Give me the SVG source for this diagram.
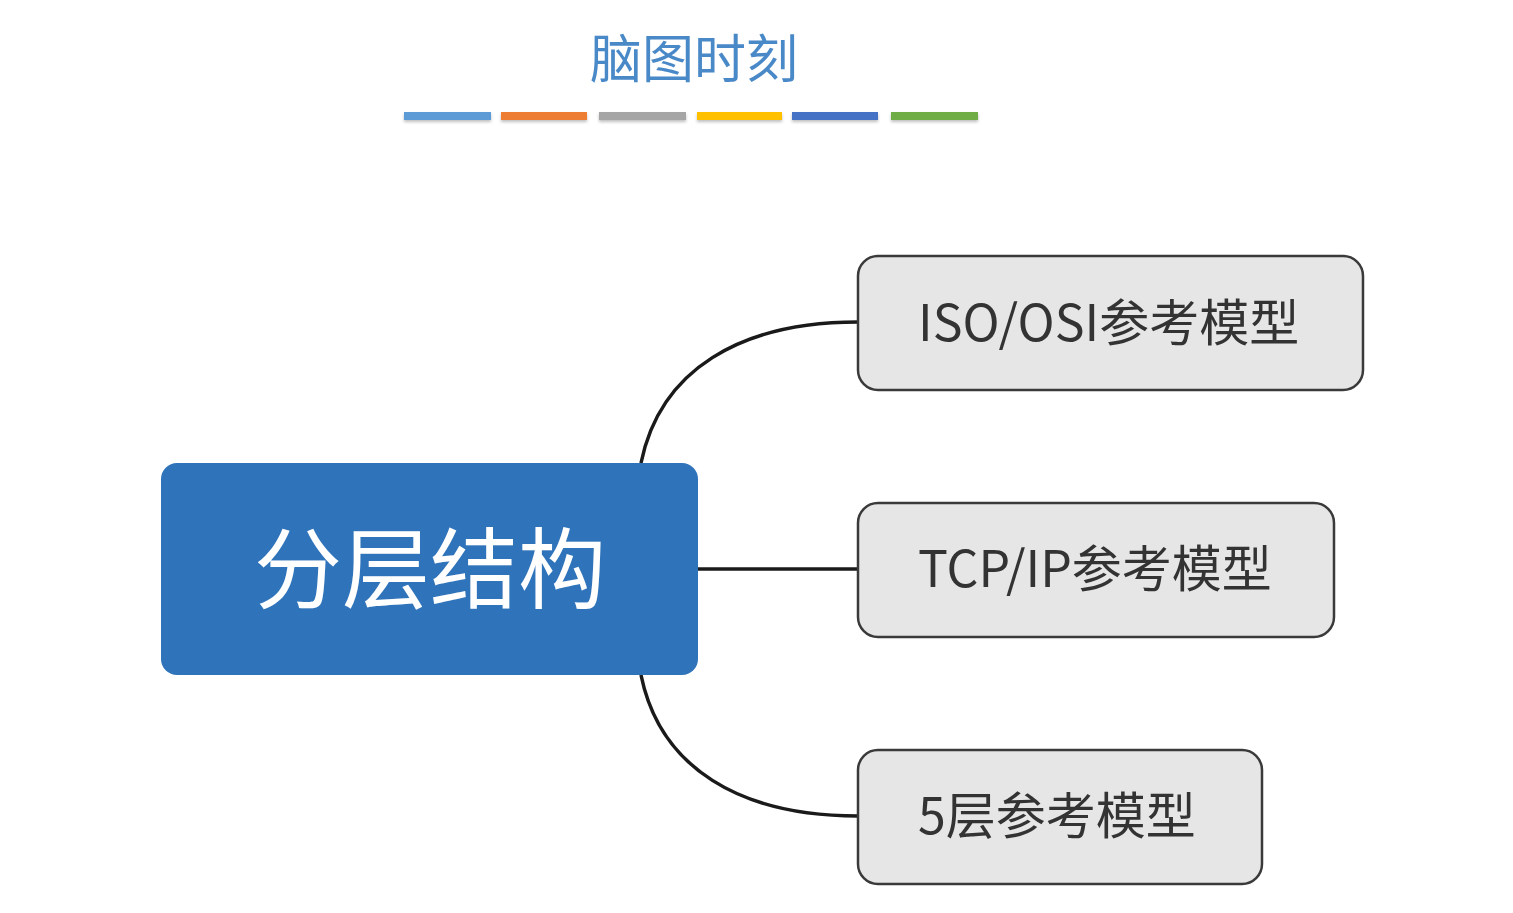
<svg xmlns="http://www.w3.org/2000/svg" width="1513" height="913" viewBox="0 0 1513 913">
<style>
.t{font-family:"Noto Sans CJK SC","Noto Sans",sans-serif}
.bar{stroke:none}
.child{fill:#e6e6e6;stroke:#3a3a3a;stroke-width:2.5}
.ct{font-size:50px;fill:#333333}
.conn{fill:none;stroke:#1a1a1a;stroke-width:3.5}
</style>
<defs>
<filter id="sh" x="-10%" y="-50%" width="120%" height="250%">
<feDropShadow dx="0" dy="2" stdDeviation="1.5" flood-color="#000" flood-opacity="0.25"/>
</filter>
</defs>
<rect width="1513" height="913" fill="#ffffff"/>
<g id="title">
<text class="t" x="694" y="78" text-anchor="middle" font-size="52" fill="#4a89c8">脑图时刻</text>
<g filter="url(#sh)">
<rect class="bar" x="404" y="112" width="87" height="8" fill="#5b9bd5"/>
<rect class="bar" x="501" y="112" width="86" height="8" fill="#ed7d31"/>
<rect class="bar" x="599" y="112" width="87" height="8" fill="#a5a5a5"/>
<rect class="bar" x="697" y="112" width="85" height="8" fill="#ffc000"/>
<rect class="bar" x="792" y="112" width="86" height="8" fill="#4472c4"/>
<rect class="bar" x="891" y="112" width="87" height="8" fill="#70ad47"/>
</g>
</g>
<g id="connectors">
<path class="conn" d="M641,463 C660,370 740,322 858,322"/>
<path class="conn" d="M698,569 L858,569"/>
<path class="conn" d="M641,675 C660,768 740,816 858,816"/>
</g>
<g id="root">
<rect x="161" y="463" width="537" height="212" rx="16" fill="#2f74ba"/>
<text class="t" x="430" y="601" text-anchor="middle" font-size="88" fill="#ffffff">分层结构</text>
</g>
<g id="iso">
<rect class="child" x="858" y="256" width="505" height="134" rx="20"/>
<text class="t ct" x="918" y="341">ISO/OSI参考模型</text>
</g>
<g id="tcpip">
<rect class="child" x="858" y="503" width="476" height="134" rx="20"/>
<text class="t ct" x="918" y="587">TCP/IP参考模型</text>
</g>
<g id="five">
<rect class="child" x="858" y="750" width="404" height="134" rx="20"/>
<text class="t ct" x="918" y="834">5层参考模型</text>
</g>
</svg>
